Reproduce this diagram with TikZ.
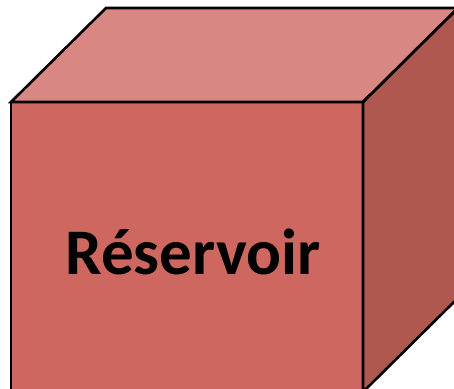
\documentclass[tikz,border=0pt]{standalone}
\usepackage{fontspec}
\setmainfont{Carlito}
\definecolor{frontred}{RGB}{205,103,96}
\definecolor{topred}{RGB}{216,135,131}
\definecolor{sidered}{RGB}{174,88,80}
\begin{document}
\begin{tikzpicture}[x=1pt,y=-1pt,
  face/.style={draw=black,line width=2.6pt,line join=miter}]
\useasboundingbox (0,0) rectangle (454,388);
\clip (0,0) rectangle (454,388);
% cube corners: front face and depth offset
\coordinate (ftl) at (11,102);
\coordinate (ftr) at (363,102);
\coordinate (fbr) at (363,392);
\coordinate (fbl) at (11,392);
\coordinate (btl) at (106,8);
\coordinate (btr) at (458,8);
\coordinate (bbr) at (458,298);
% faces
\fill[topred] (ftl) -- (btl) -- (btr) -- (ftr) -- cycle;
\fill[sidered] (ftr) -- (btr) -- (bbr) -- (fbr) -- cycle;
\fill[frontred] (ftl) -- (ftr) -- (fbr) -- (fbl) -- cycle;
\draw[face] (ftl) -- (btl) -- (btr) -- (ftr) -- cycle;
\draw[face] (ftr) -- (btr) -- (bbr) -- (fbr) -- cycle;
\draw[face] (ftl) -- (ftr) -- (fbr) -- (fbl) -- cycle;
\node[anchor=base,inner sep=0pt,font=\fontsize{65}{70}\selectfont\bfseries] (label) at (193,274) {Réservoir};
\end{tikzpicture}
\end{document}
